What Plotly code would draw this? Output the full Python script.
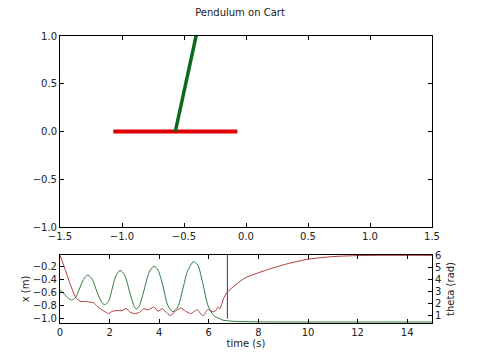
import plotly.graph_objects as go
import math

# ---- data ----
cart_position = -0.57
cart_width = 1.0
pendulum_angle = 0.166       # rad from vertical (clockwise)
pendulum_length = 1.5

time_s = [0.0, 0.15, 0.3, 0.47, 0.62, 0.8, 0.95, 1.12, 1.3, 1.5, 1.7, 1.8, 1.95, 2.1, 2.25,
          2.42, 2.6, 2.8, 3.0, 3.08, 3.2, 3.4, 3.6, 3.79, 3.95, 4.15, 4.35, 4.55,
          4.75, 4.95, 5.15, 5.38, 5.55, 5.75, 5.95, 6.1, 6.25, 6.4, 6.55, 6.75,
          7.0, 7.5, 8.0, 9.0, 10.0, 12.0, 15.0]
x_m = [-0.56, -0.61, -0.68, -0.715, -0.68, -0.53, -0.40, -0.335, -0.40, -0.60, -0.76, -0.785,
       -0.74, -0.55, -0.35, -0.265, -0.33, -0.58, -0.82, -0.853, -0.80, -0.55, -0.29,
       -0.20, -0.26, -0.50, -0.80, -0.894, -0.82, -0.55, -0.27, -0.135, -0.18, -0.45,
       -0.78, -0.90, -0.97, -0.99, -1.02, -1.03, -1.04, -1.045, -1.048, -1.05, -1.05,
       -1.05, -1.05]

theta_time = [0.0, 0.2, 0.4, 0.55, 0.67, 0.85, 1.0, 1.2, 1.35, 1.5, 1.7, 1.9, 1.95,
              2.1, 2.3, 2.5, 2.67, 2.8, 3.0, 3.2, 3.37, 3.55, 3.78, 3.95, 4.13, 4.33,
              4.46, 4.66, 4.86, 5.06, 5.27, 5.4, 5.53, 5.67, 5.77, 5.87, 5.97, 6.08,
              6.2, 6.3, 6.38, 6.45, 6.59, 6.75, 7.06, 7.46, 8.33, 9.14, 10.0, 11.0,
              12.0, 13.0, 15.0]
theta_rad = [6.03, 4.9, 3.7, 2.9, 2.43, 2.2, 2.2, 2.15, 2.1, 1.8, 1.5, 1.25, 1.2,
             1.38, 1.45, 1.45, 1.62, 1.35, 1.2, 1.3, 1.6, 1.5, 1.75, 1.4, 1.6, 1.2,
             1.05, 1.4, 1.66, 1.4, 1.2, 1.35, 1.52, 1.2, 1.0, 1.3, 1.55, 1.4,
             1.35, 1.5, 1.75, 1.6, 2.43, 2.99, 3.54, 4.15, 4.81, 5.31, 5.70, 5.92,
             6.0, 6.02, 6.02]

current_time = 6.75
marker_span = [-1.0, 0.0]

x_ticks_top = [-1.5, -1.0, -0.5, 0.0, 0.5, 1.0, 1.5]
y_ticks_top = [-1.0, -0.5, 0.0, 0.5, 1.0]
t_ticks = [0, 2, 4, 6, 8, 10, 12, 14]
x_ticks = [-1.0, -0.8, -0.6, -0.4, -0.2]
theta_ticks = [1, 2, 3, 4, 5, 6]

cart_xs = [cart_position - cart_width / 2, cart_position + cart_width / 2]
cart_ys = [0, 0]
pend_xs = [cart_position, cart_position + pendulum_length * math.sin(pendulum_angle)]
pend_ys = [0, pendulum_length * math.cos(pendulum_angle)]

fig = go.Figure()
fig.add_trace(go.Scatter(x=cart_xs, y=cart_ys, mode="lines",
                         line=dict(color="#e00000", width=4), xaxis="x", yaxis="y"))
fig.add_trace(go.Scatter(x=pend_xs, y=pend_ys, mode="lines",
                         line=dict(color="#0b6b1b", width=3.5), xaxis="x", yaxis="y"))
fig.add_trace(go.Scatter(x=time_s, y=x_m, mode="lines",
                         line=dict(color="#2f7a3f", width=1, shape="spline", smoothing=0.8),
                         xaxis="x2", yaxis="y2"))
fig.add_trace(go.Scatter(x=[current_time, current_time], y=marker_span, mode="lines",
                         line=dict(color="#3a3a5c", width=1), xaxis="x2", yaxis="y2"))
fig.add_trace(go.Scatter(x=theta_time, y=theta_rad, mode="lines",
                         line=dict(color="#b03a3a", width=1, shape="spline", smoothing=0.6),
                         xaxis="x2", yaxis="y3"))

ax_common = dict(showgrid=False, zeroline=False, showline=True, linecolor="black",
                 linewidth=1, ticks="inside", ticklen=4, tickcolor="black",
                 automargin=False, tickfont=dict(size=10, color="#222"))

fig.update_layout(
    width=480, height=360, margin=dict(l=0, r=0, t=0, b=0, autoexpand=False),
    paper_bgcolor="white", plot_bgcolor="white", showlegend=False,
    font=dict(family="DejaVu Sans", size=10, color="#222"),
    title=dict(text="Pendulum on Cart", x=0.5, xanchor="center", y=1 - 12 / 360,
               yanchor="middle", font=dict(size=10)),
    xaxis=dict(domain=[60 / 480, 432 / 480], range=[-1.5, 1.5], tickvals=x_ticks_top,
               tickformat=".1f", anchor="y", mirror="ticks", **ax_common),
    yaxis=dict(domain=[1 - 227 / 360, 1 - 36 / 360], range=[-1, 1], tickvals=y_ticks_top,
               tickformat=".1f", anchor="x", mirror="ticks", **ax_common),
    xaxis2=dict(domain=[60 / 480, 432 / 480], range=[0, 15], tickvals=t_ticks,
                anchor="y2", mirror="ticks", title=dict(text="time (s)", standoff=2,
                font=dict(size=10)), **ax_common),
    yaxis2=dict(domain=[1 - 323 / 360, 1 - 255 / 360], range=[-1.065, -0.03],
                tickvals=x_ticks, tickformat=".1f", anchor="x2", mirror=True,
                title=dict(text="x (m)", standoff=1, font=dict(size=10)), **ax_common),
    yaxis3=dict(domain=[1 - 323 / 360, 1 - 255 / 360], range=[0.42, 6.05],
                tickvals=theta_ticks, overlaying="y2", side="right", anchor="x2",
                title=dict(text="theta (rad)", standoff=6, font=dict(size=10)), **ax_common),
)

fig.write_html("out.html")
